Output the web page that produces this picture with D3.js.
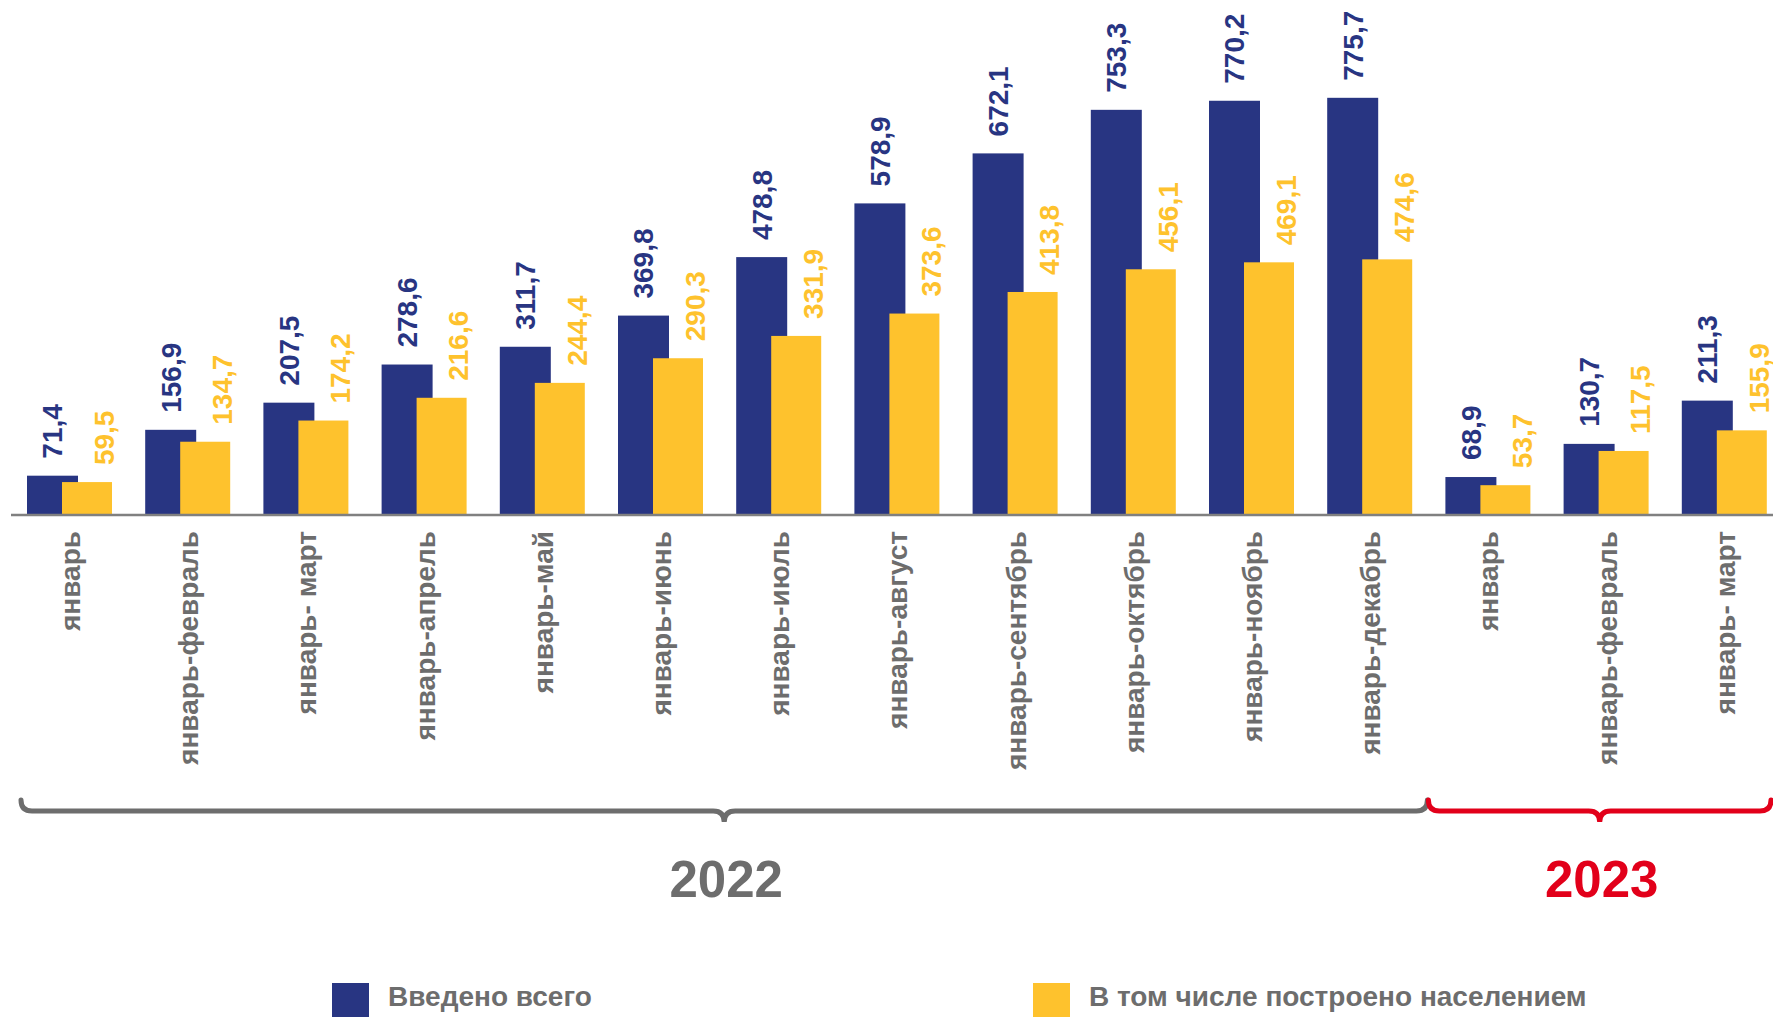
<!DOCTYPE html>
<html>
<head>
<meta charset="utf-8">
<script src="https://cdn.jsdelivr.net/npm/d3@7"></script>
<style>
    body { margin: 0; background: #fff; }
    svg { display: block; font-family: "Liberation Sans", Arial, sans-serif; }
</style>
</head>
<body>
<svg id="chart" width="1773" height="1017"></svg>
<script>
var categories = ["январь", "январь-февраль", "январь- март", "январь-апрель", "январь-май",
    "январь-июнь", "январь-июль", "январь-август", "январь-сентябрь", "январь-октябрь",
    "январь-ноябрь", "январь-декабрь", "январь", "январь-февраль", "январь- март"];
var totalValues = [71.4, 156.9, 207.5, 278.6, 311.7, 369.8, 478.8, 578.9, 672.1, 753.3, 770.2, 775.7, 68.9, 130.7, 211.3];
var popValues = [59.5, 134.7, 174.2, 216.6, 244.4, 290.3, 331.9, 373.6, 413.8, 456.1, 469.1, 474.6, 53.7, 117.5, 155.9];
var years = ["2022", "2023"];
var yearStart = [0, 12];
var yearEnd = [11, 14];
var seriesNames = ["Введено всего", "В том числе построено населением"];

var navy = "#283582";
var yellow = "#fec22d";
var grey = "#6d6d6d";
var red = "#e2001a";

var baseline = 514;
var svg = d3.select("#chart");

var x = d3.scaleBand()
    .domain(d3.range(categories.length))
    .range([11, 11 + 118.2 * categories.length])
    .padding(0);

var y = d3.scaleLinear()
    .domain([0, 958])
    .range([baseline, 0]);

function fmt(v) {
    return d3.format(".1f")(v).replace(".", ",");
}

// bars
svg.append("g").selectAll("rect")
    .data(totalValues)
    .enter()
    .append("rect")
    .attr("x", function(d, i) { return x(i) + 16; })
    .attr("y", function(d) { return y(d); })
    .attr("width", 51)
    .attr("height", function(d) { return baseline - y(d); })
    .attr("fill", navy);

svg.append("g").selectAll("rect")
    .data(popValues)
    .enter()
    .append("rect")
    .attr("x", function(d, i) { return x(i) + 51; })
    .attr("y", function(d) { return y(d); })
    .attr("width", 50)
    .attr("height", function(d) { return baseline - y(d); })
    .attr("fill", yellow);

// value labels
svg.append("g").selectAll("text")
    .data(totalValues)
    .enter()
    .append("text")
    .attr("transform", function(d, i) {
        return "translate(" + (x(i) + 41.5) + "," + (y(d) - 17) + ") rotate(-90)";
    })
    .attr("dy", "0.35em")
    .attr("font-size", "28px")
    .attr("font-weight", "bold")
    .attr("fill", navy)
    .text(fmt);

svg.append("g").selectAll("text")
    .data(popValues)
    .enter()
    .append("text")
    .attr("transform", function(d, i) {
        return "translate(" + (x(i) + 93) + "," + (y(d) - 17) + ") rotate(-90)";
    })
    .attr("dy", "0.35em")
    .attr("font-size", "28px")
    .attr("font-weight", "bold")
    .attr("fill", yellow)
    .text(fmt);

// axis line
svg.append("line")
    .attr("x1", 11)
    .attr("x2", 1773)
    .attr("y1", baseline + 1)
    .attr("y2", baseline + 1)
    .attr("stroke", "#808080")
    .attr("stroke-width", 2.5);

// category labels
svg.append("g").selectAll("text")
    .data(categories)
    .enter()
    .append("text")
    .attr("transform", function(d, i) {
        return "translate(" + (x(i) + x.bandwidth() / 2) + "," + 531 + ") rotate(-90)";
    })
    .attr("dy", "0.35em")
    .attr("text-anchor", "end")
    .attr("font-size", "28px")
    .attr("font-weight", "bold")
    .attr("fill", grey)
    .text(function(d) { return d; });

// braces
function brace(x1, x2, yy) {
    var r = 11;
    var mid = (x1 + x2) / 2;
    return "M" + x1 + "," + (yy - r) +
        " Q" + x1 + "," + yy + " " + (x1 + r) + "," + yy +
        " L" + (mid - r) + "," + yy +
        " Q" + mid + "," + yy + " " + mid + "," + (yy + r) +
        " Q" + mid + "," + yy + " " + (mid + r) + "," + yy +
        " L" + (x2 - r) + "," + yy +
        " Q" + x2 + "," + yy + " " + x2 + "," + (yy - r);
}

var yearColors = [grey, red];
var braceX1 = [x(yearStart[0]) + 10, x(yearStart[1]) - 1];
var braceX2 = [x(yearEnd[0]) + x.bandwidth() - 2, 1771];

years.forEach(function(yr, k) {
    svg.append("path")
        .attr("d", brace(braceX1[k], braceX2[k], 811))
        .attr("fill", "none")
        .attr("stroke", yearColors[k])
        .attr("stroke-width", 5)
        .attr("stroke-linecap", "round");

    svg.append("text")
        .attr("x", (braceX1[k] + braceX2[k]) / 2 + 2)
        .attr("y", 897)
        .attr("text-anchor", "middle")
        .attr("font-size", "51px")
        .attr("font-weight", "bold")
        .attr("fill", yearColors[k])
        .text(yr);
});

// legend
var legendX = [332, 1033];
var legendColors = [navy, yellow];
seriesNames.forEach(function(name, k) {
    svg.append("rect")
        .attr("x", legendX[k])
        .attr("y", 983)
        .attr("width", 37)
        .attr("height", 36)
        .attr("fill", legendColors[k]);

    svg.append("text")
        .attr("x", legendX[k] + 56)
        .attr("y", 1006)
        .attr("font-size", "28px")
        .attr("font-weight", "bold")
        .attr("fill", grey)
        .text(name);
});
</script>
</body>
</html>
